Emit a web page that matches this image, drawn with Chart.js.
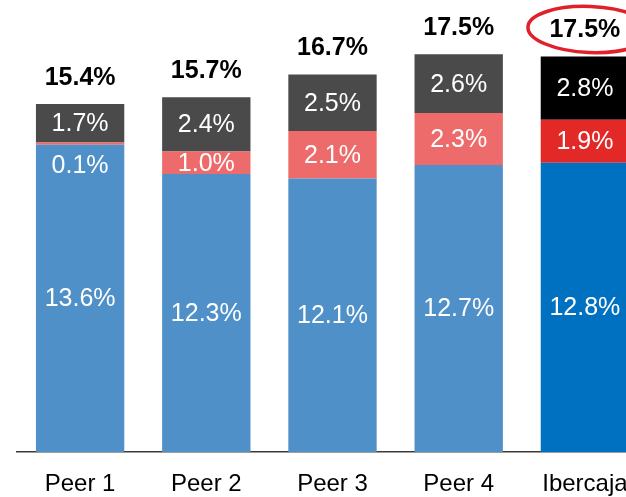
<!DOCTYPE html>
<html>
<head>
<meta charset="utf-8">
<script src="https://cdn.jsdelivr.net/npm/chart.js@4"></script>
<style>
  html, body { margin: 0; padding: 0; background: #fff; overflow: hidden; }
  #wrap { width: 648px; height: 497px; }
</style>
</head>
<body>
<div id="wrap"><canvas id="capitalChart" width="648" height="497"></canvas></div>
<script>
const categories = ['Peer 1', 'Peer 2', 'Peer 3', 'Peer 4', 'Ibercaja'];
const baseValues = [13.6, 12.3, 12.1, 12.7, 12.8];
const midValues = [0.1, 1.0, 2.1, 2.3, 1.9];
const topValues = [1.7, 2.4, 2.5, 2.6, 2.8];
const totalLabels = ['15.4%', '15.7%', '16.7%', '17.5%', '17.5%'];

const FONT = '"Liberation Sans", Arial, sans-serif';

// peers get the light palette, Ibercaja the strong one
const baseColors = ['#4e90c7', '#4e90c7', '#4e90c7', '#4e90c7', '#0070c0'];
const midColors = ['#ee6b6b', '#ee6b6b', '#ee6b6b', '#ee6b6b', '#e32828'];
const topColors = ['#4a4a4a', '#4a4a4a', '#4a4a4a', '#4a4a4a', '#000000'];

const labelPlugin = {
  id: 'barLabels',
  afterDatasetsDraw(chart) {
    const ctx = chart.ctx;
    ctx.save();
    ctx.textAlign = 'center';
    ctx.textBaseline = 'middle';
    ctx.font = '25px ' + FONT;
    ctx.fillStyle = '#fff';
    chart.data.datasets.forEach((ds, di) => {
      const meta = chart.getDatasetMeta(di);
      meta.data.forEach((bar, i) => {
        const h = bar.base - bar.y;
        let cy = (bar.y + bar.base) / 2 + 1;
        if (h < 12) cy = bar.base + 21; // too thin, put label below it
        ctx.fillText(ds.data[i].toFixed(1) + '%', bar.x, cy);
      });
    });

    // totals on top
    const topMeta = chart.getDatasetMeta(chart.data.datasets.length - 1);
    ctx.font = 'bold 25px ' + FONT;
    ctx.fillStyle = '#000';
    topMeta.data.forEach((bar, i) => {
      ctx.fillText(totalLabels[i], bar.x, bar.y - 26);
    });

    // red circle around Ibercaja total
    const last = topMeta.data[topMeta.data.length - 1];
    ctx.strokeStyle = '#e0202a';
    ctx.lineWidth = 3.5;
    ctx.beginPath();
    ctx.ellipse(last.x + 5, last.y - 27, 62, 23, 0.04, 0, Math.PI * 2);
    ctx.stroke();
    ctx.restore();
  }
};

new Chart(document.getElementById('capitalChart'), {
  type: 'bar',
  data: {
    labels: categories,
    datasets: [
      { label: 'base', data: baseValues, backgroundColor: baseColors },
      { label: 'mid', data: midValues, backgroundColor: midColors },
      { label: 'top', data: topValues, backgroundColor: topColors }
    ]
  },
  options: {
    responsive: false,
    animation: false,
    layout: { padding: { left: 17, right: 0, top: 0, bottom: 0 } },
    datasets: { bar: { barPercentage: 0.7, categoryPercentage: 1.0 } },
    plugins: { legend: { display: false }, tooltip: { enabled: false } },
    scales: {
      x: {
        stacked: true,
        grid: { display: false },
        border: { display: true, color: '#3a3a3a', width: 1.5 },
        ticks: { color: '#000', padding: 10, font: { family: FONT, size: 24 } },
        afterFit(scale) { scale.height = 45; }
      },
      y: {
        stacked: true,
        display: false,
        min: 0,
        max: 20
      }
    }
  },
  plugins: [labelPlugin]
});
</script>
</body>
</html>
